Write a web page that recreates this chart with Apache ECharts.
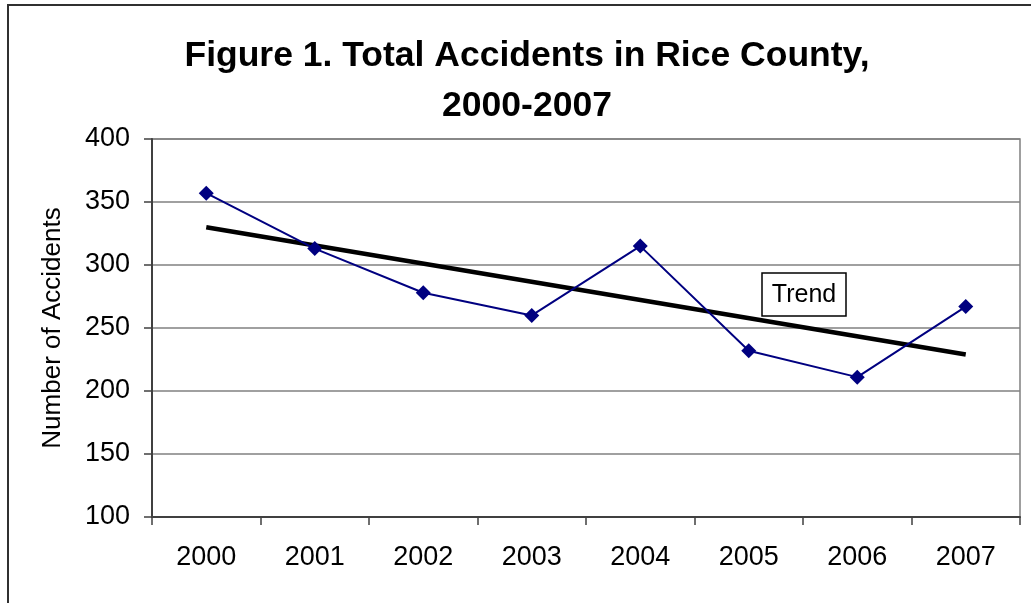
<!DOCTYPE html>
<html><head><meta charset="utf-8">
<script src="https://cdn.jsdelivr.net/npm/echarts@6/dist/echarts.min.js"></script>
<style>html,body{margin:0;padding:0;background:#fff}#c{width:1031px;height:603px}</style>
</head><body><div id="c"></div>
<script>
var categories = ['2000','2001','2002','2003','2004','2005','2006','2007'];
var accidents = [357, 313, 278, 260, 315, 232, 211, 267];
var trend = [330, null, null, null, null, null, null, 229];
var yTicks = {min: 100, max: 400, interval: 50};

var chart = echarts.init(document.getElementById('c'), null, {renderer: 'canvas'});
var font = '"Liberation Sans", Arial, sans-serif';
chart.setOption({
  animation: false,
  backgroundColor: '#fff',
  title: {
    text: 'Figure 1. Total Accidents in Rice County,\n2000-2007',
    left: 522, top: 26, textAlign: 'center',
    textStyle: {fontFamily: font, fontSize: 35.5, fontWeight: 'bold', color: '#000', lineHeight: 50}
  },
  grid: {left: 152, top: 139, right: 11, bottom: 86, show: true, borderColor: '#808080', borderWidth: 1.5},
  xAxis: {
    type: 'category', data: categories, boundaryGap: true,
    axisLine: {lineStyle: {color: '#404040', width: 2}},
    axisTick: {show: true, length: 8, lineStyle: {color: '#404040', width: 1.5}},
    axisLabel: {fontFamily: font, fontSize: 27, color: '#000', margin: 27}
  },
  yAxis: {
    type: 'value', min: yTicks.min, max: yTicks.max, interval: yTicks.interval,
    name: 'Number of Accidents', nameLocation: 'middle', nameGap: 86, nameRotate: 90,
    nameTextStyle: {fontFamily: font, fontSize: 26, color: '#000'},
    axisLine: {show: true, lineStyle: {color: '#404040', width: 2}},
    axisTick: {show: true, length: 8, lineStyle: {color: '#404040', width: 1.5}},
    axisLabel: {fontFamily: font, fontSize: 27, color: '#000', margin: 22},
    splitLine: {lineStyle: {color: '#808080', width: 1.5}}
  },
  series: [
    {type: 'line', name: 'Trend', data: trend, connectNulls: true, showSymbol: false, symbol: 'none',
     lineStyle: {color: '#000', width: 4.5}, z: 2},
    {type: 'line', name: 'Accidents', data: accidents, symbol: 'diamond', symbolSize: 15,
     itemStyle: {color: '#000080'}, lineStyle: {color: '#000080', width: 2}, z: 3}
  ],
  graphic: [
    {type: 'rect', shape: {x: 8, y: 5, width: 1100, height: 700}, style: {fill: 'none', stroke: '#303030', lineWidth: 2}, z: 100},
    {type: 'rect', shape: {x: 762, y: 273, width: 84, height: 43}, style: {fill: '#fff', stroke: '#000', lineWidth: 1.5}, z: 100},
    {type: 'text', x: 804, y: 295, style: {text: 'Trend', font: '25px ' + font, fill: '#000', align: 'center', verticalAlign: 'middle'}, z: 101}
  ]
});
</script></body></html>
